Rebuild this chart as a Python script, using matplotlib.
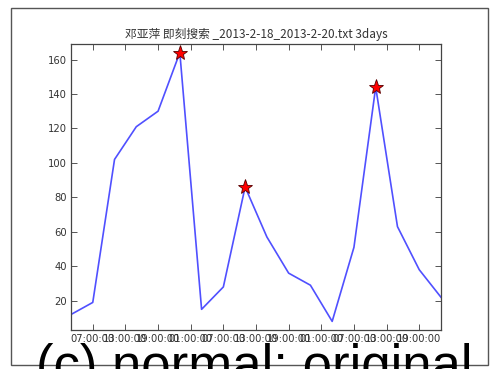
import datetime as dt

import matplotlib
matplotlib.use("Agg")
import matplotlib.pyplot as plt
import matplotlib.dates as mdates
from matplotlib.patches import Rectangle

# searches every 4 hours, 2013-2-18 03:00 .. 2013-2-20 23:00
start = dt.datetime(2013, 2, 18, 3, 0, 0)
times = [start + dt.timedelta(hours=4 * i) for i in range(18)]
counts = [12, 19, 102, 121, 130, 164, 15, 28, 86, 57, 36, 29, 8, 51, 144, 63, 38, 22]
peak_idx = [5, 8, 14]
yticks = [20, 40, 60, 80, 100, 120, 140, 160]
title = "邓亚萍 即刻搜索 _2013-2-18_2013-2-20.txt 3days"
caption = "(c) normal: original"

plt.rcParams["font.family"] = ["Noto Sans CJK SC", "DejaVu Sans"]
INK = "#333333"

fig = plt.figure(figsize=(4.91, 3.69), dpi=100)
fig.patch.set_facecolor("white")

# outer frame of the paper figure
fig.patches.append(Rectangle((11 / 491, 1 - 365 / 369), 477 / 491, 357 / 369,
                             transform=fig.transFigure, fill=False,
                             edgecolor="#555555", lw=1.0, zorder=0))

ax = fig.add_axes([71 / 491, 1 - 330 / 369, 370 / 491, 286 / 369])
ax.plot(times, counts, color="#5050ff", lw=1.2)
ax.plot([times[i] for i in peak_idx], [counts[i] for i in peak_idx],
        ls="none", marker="*", ms=11, mfc="red", mec="#550000", mew=0.6)

ax.set_xlim(times[0], times[-1])
ax.set_ylim(min(counts) - 5, max(counts) + 5)
ax.set_yticks(yticks)
ax.xaxis.set_major_locator(mdates.HourLocator(byhour=[1, 7, 13, 19]))
ax.xaxis.set_major_formatter(mdates.DateFormatter("%H:%M:%S"))
ax.tick_params(direction="in", length=4, width=0.7, labelsize=7.2,
               colors="#555555", labelcolor=INK, top=True, right=True, pad=3)
for s in ax.spines.values():
    s.set_color("#444444")
    s.set_linewidth(0.9)
for lab in ax.get_xticklabels() + ax.get_yticklabels():
    lab.set_family("DejaVu Sans")

ax.set_title(title, fontsize=8.5, color=INK, pad=4)

fig.text(0.517, 1 - 343 / 369, caption, fontsize=38, color="black",
         family="Liberation Sans", ha="center", va="top")

fig.savefig("out.png", dpi=100, facecolor="white")
